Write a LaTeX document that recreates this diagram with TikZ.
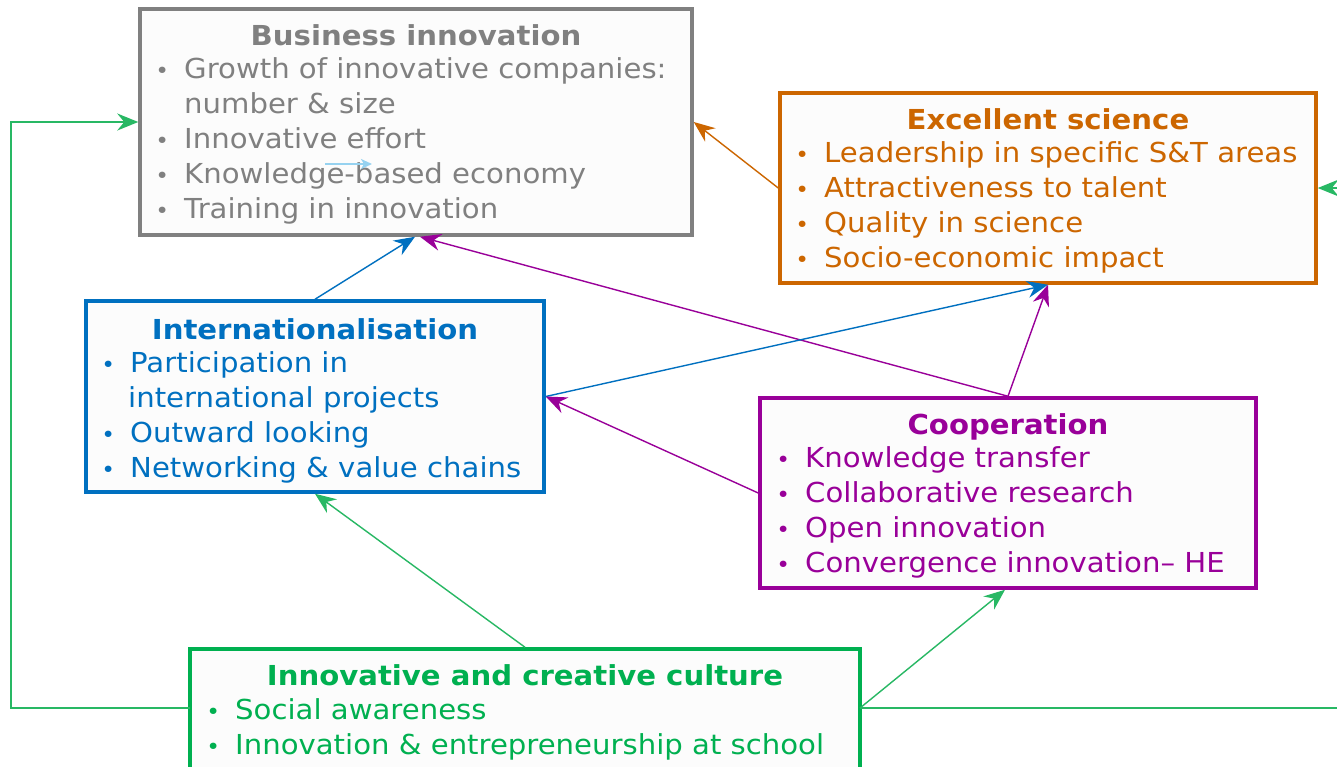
\documentclass[tikz,border=0pt]{standalone}
\usepackage{fontspec}
\setmainfont[FakeStretch=1.06]{DejaVu Sans}
\usetikzlibrary{arrows.meta,calc}
\definecolor{cgray}{RGB}{128,128,128}
\definecolor{corange}{RGB}{204,102,0}
\definecolor{cblue}{RGB}{0,112,192}
\definecolor{cpurple}{RGB}{153,0,153}
\definecolor{cgreen}{RGB}{0,176,80}
\definecolor{clgreen}{RGB}{40,184,100}
\definecolor{boxfill}{RGB}{252,252,252}
\definecolor{lightarrow}{RGB}{150,210,240}
\newcommand{\bu}{\llap{\makebox[44pt]{\scalebox{0.8}{•}}}}
\tikzset{
  box/.style={draw, line width=3.5pt, fill=boxfill, inner sep=0pt},
  ttl/.style={font=\fontsize{27.5}{35}\selectfont\bfseries, anchor=base, inner sep=0pt},
  itm/.style={font=\fontsize{27.5}{35}\selectfont, anchor=base west, inner sep=0pt},
  conn/.style={line width=1.4pt, -{Stealth[length=21pt,width=17pt,inset=7pt]}},
}
\begin{document}
\begin{tikzpicture}[x=1pt,y=-1pt]
\useasboundingbox (0,0) rectangle (1337,766);
\clip (0,0) rectangle (1337,766);
\fill[white] (0,0) rectangle (1337,766);

% boxes
\node[box, draw=cgray, minimum width=552pt, minimum height=226pt] (bi) at (416,122) {};
\node[box, draw=corange, minimum width=536pt, minimum height=190pt] (es) at (1048,188) {};
\node[box, draw=cblue, minimum width=458pt, minimum height=191pt] (int) at (315,396.5) {};
\node[box, draw=cpurple, minimum width=496pt, minimum height=190pt] (coop) at (1008,493) {};
\node[box, draw=cgreen, minimum width=670pt, minimum height=200pt] (icc) at (525,749) {};

% Business innovation
\begin{scope}[text=cgray]
\node[ttl] (bit) at (416,45) {Business innovation};
\node[itm] (bi1) at (184,78) {\bu Growth of innovative companies:};
\node[itm] (bi2) at (184,113) {number \& size};
\node[itm] (bi3) at (184,148) {\bu Innovative effort};
\node[itm] (bi4) at (184,183) {\bu Knowledge-based economy};
\node[itm] (bi5) at (184,218) {\bu Training in innovation};
\end{scope}

% Excellent science
\begin{scope}[text=corange]
\node[ttl] (est) at (1048,129) {Excellent science};
\node[itm] (es1) at (824,162) {\bu Leadership in specific S\&T areas};
\node[itm] (es2) at (824,197) {\bu Attractiveness to talent};
\node[itm] (es3) at (824,232) {\bu Quality in science};
\node[itm] (es4) at (824,267) {\bu Socio-economic impact};
\end{scope}

% Internationalisation
\begin{scope}[text=cblue]
\node[ttl] (intt) at (315,339) {Internationalisation};
\node[itm] (in1) at (130,372) {\bu Participation in};
\node[itm] (in2) at (128,407) {international projects};
\node[itm] (in3) at (130,442) {\bu Outward looking};
\node[itm] (in4) at (130,477) {\bu Networking \& value chains};
\end{scope}

% Cooperation
\begin{scope}[text=cpurple]
\node[ttl] (coopt) at (1008,434) {Cooperation};
\node[itm] (co1) at (805,467) {\bu Knowledge transfer};
\node[itm] (co2) at (805,502) {\bu Collaborative research};
\node[itm] (co3) at (805,537) {\bu Open innovation};
\node[itm] (co4) at (805,572) {\bu Convergence innovation– HE};
\end{scope}

% Innovative and creative culture
\begin{scope}[text=cgreen]
\node[ttl] (icct) at (525,685) {Innovative and creative culture};
\node[itm] (ic1) at (235,719) {\bu Social awareness};
\node[itm] (ic2) at (235,754) {\bu Innovation \& entrepreneurship at school};
\end{scope}

% small stray arrow
\coordinate (sa1) at (325,164);
\coordinate (sa2) at (372,164);
\draw[lightarrow, line width=1.8pt, -{Stealth[length=11pt,width=10pt,inset=3pt]}] (sa1) -- (sa2);

% connectors
\draw[conn, corange] (es.west) -- (bi.east);
\draw[conn, cblue] (int.north) -- ($(bi.south)+(-1,0)$);
\draw[conn, cpurple] (coop.north) -- ($(bi.south)+(4,0)$);
\draw[conn, cpurple] (coop.north) -- (es.south);
\draw[conn, cblue] (int.east) -- (es.south);
\draw[conn, cpurple] (coop.west) -- (int.east);
\draw[conn, clgreen] (icc.north) -- (int.south);
\coordinate (iccR) at (860,708);
\coordinate (iccL) at (190,708);
\coordinate (cL) at (11,0);
\coordinate (cR) at (1352,0);
\draw[conn, clgreen] (iccR) -- ($(coop.south)+(-3,0)$);
\draw[conn, clgreen] (iccL) -- (iccL -| cL) |- (bi.west);
\draw[conn, clgreen] (iccR) -- (iccR -| cR) |- (es.east);
\end{tikzpicture}
\end{document}
